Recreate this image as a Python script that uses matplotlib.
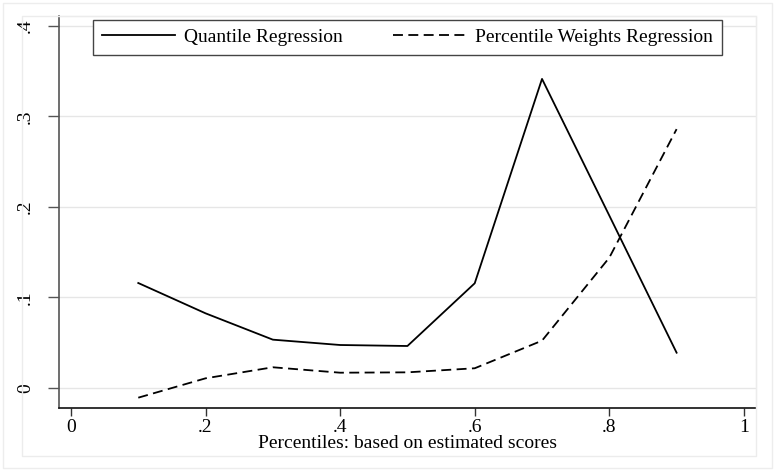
import matplotlib
matplotlib.use("Agg")
import matplotlib.pyplot as plt
from matplotlib.patches import Rectangle

percentiles = [0.1, 0.2, 0.3, 0.4, 0.5, 0.6, 0.7, 0.8, 0.9]
quantile_reg = [0.116, 0.0825, 0.0534, 0.0475, 0.0464, 0.1157, 0.3415, 0.1905, 0.039]
pct_weights_reg = [-0.0107, 0.0107, 0.0229, 0.0169, 0.0173, 0.0218, 0.0523, 0.144, 0.286]
xticks = [0, 0.2, 0.4, 0.6, 0.8, 1.0]
xticklabels = ["0", ".2", ".4", ".6", ".8", "1"]
yticks = [0, 0.1, 0.2, 0.3, 0.4]
yticklabels = ["0", ".1", ".2", ".3", ".4"]

plt.rcParams['font.family'] = ['Liberation Serif', 'DejaVu Serif']

W, H = 775, 471
FS = 14
fig = plt.figure(figsize=(W / 100, H / 100), dpi=100)
fig.patch.set_facecolor('white')

# outer frames
fig.add_artist(Rectangle((2.5 / W, 1 - 468 / H), (772 - 2.5) / W, (468 - 2.5) / H,
                         transform=fig.transFigure, fill=False, edgecolor='#ededed', lw=1))
fig.add_artist(Rectangle((21.5 / W, 1 - 456 / H), (756 - 21.5) / W, (456 - 16) / H,
                         transform=fig.transFigure, fill=False, edgecolor='#ececec', lw=1))

ax = fig.add_axes([59 / W, 1 - 408 / H, (756 - 59) / W, (408 - 16) / H])
ax.set_facecolor('white')

ax.plot(percentiles, quantile_reg, color='black', lw=1.3, label='Quantile Regression')
ax.plot(percentiles, pct_weights_reg, color='black', lw=1.3, linestyle=(0, (5.5, 3)),
        label='Percentile Weights Regression')

ax.set_xlim(-0.0178, 1.018)
ax.set_ylim(-0.0221, 0.411)

ax.set_xticks(xticks)
ax.set_xticklabels(xticklabels, fontsize=FS)
ax.set_yticks(yticks)
ax.set_yticklabels(yticklabels, fontsize=FS, rotation=90, va='center')

ax.tick_params(axis='x', length=6, width=1, color='#333333', pad=2)
ax.tick_params(axis='y', length=8, width=1, color='#555555', pad=10)

ax.yaxis.grid(True, color='#e6e6e6', lw=1)
ax.xaxis.grid(False)
ax.set_axisbelow(True)

ax.spines['left'].set_color('#555555')
ax.spines['left'].set_linewidth(1.2)
ax.spines['bottom'].set_color('#111111')
ax.spines['bottom'].set_linewidth(1.2)
ax.spines['top'].set_color('#ececec')
ax.spines['right'].set_color('#ececec')

ax.set_xlabel('Percentiles: based on estimated scores', fontsize=FS, labelpad=-1)

leg = ax.legend(loc='upper center', bbox_to_anchor=(0.4998, 1.0), ncol=2, fontsize=FS,
                frameon=True, fancybox=False, shadow=False, framealpha=1,
                edgecolor='#444444', handlelength=3.75, handletextpad=0.46,
                columnspacing=2.6, borderpad=0.45, borderaxespad=0.2)
leg.get_frame().set_linewidth(1.0)

fig.savefig('out.png', dpi=100)
